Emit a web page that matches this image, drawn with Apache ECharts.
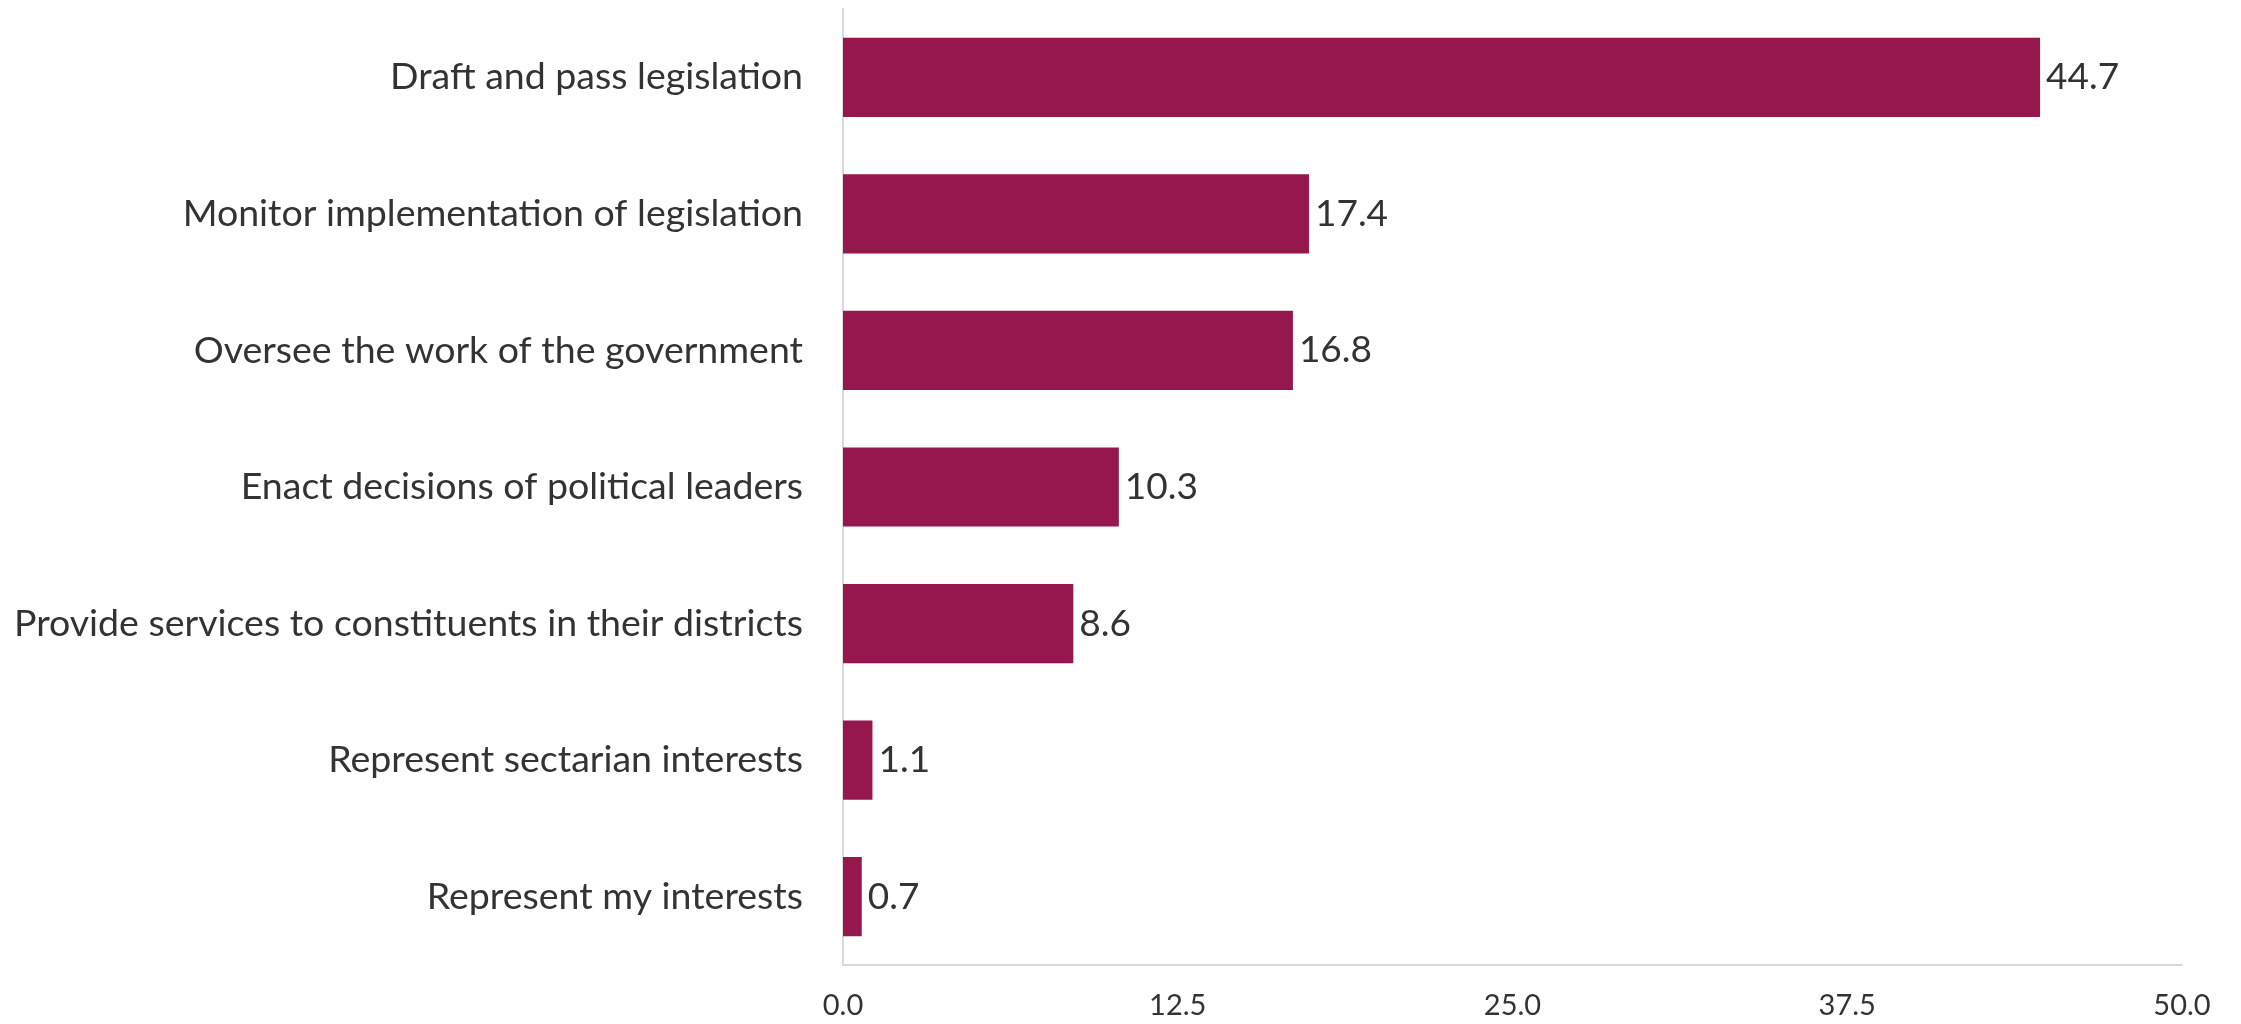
<!DOCTYPE html>
<html><head><meta charset="utf-8">
<script src="https://cdn.jsdelivr.net/npm/echarts@6/dist/echarts.min.js"></script>
<style>html,body{margin:0;padding:0;background:#fff}#c{width:2241px;height:1024px}</style>
</head><body><div id="c"></div>
<script>
const categories = [
  "Draft and pass legislation",
  "Monitor implementation of legislation",
  "Oversee the work of the government",
  "Enact decisions of political leaders",
  "Provide services to constituents in their districts",
  "Represent sectarian interests",
  "Represent my interests"
];
const values = [44.7, 17.4, 16.8, 10.3, 8.6, 1.1, 0.7];
const xTicks = [0, 12.5, 25, 37.5, 50];

const chart = echarts.init(document.getElementById('c'));
chart.setOption({
  animation: false,
  grid: {left: 843, right: 59, top: 9, bottom: 59, containLabel: false},
  xAxis: {
    type: 'value', min: xTicks[0], max: xTicks[xTicks.length - 1], interval: xTicks[1] - xTicks[0],
    axisLine: {show: true, lineStyle: {color: '#d9d9d9', width: 2}},
    axisTick: {show: false},
    splitLine: {show: false},
    axisLabel: {color: '#333', fontFamily: 'Lato', fontSize: 29, margin: 26,
      formatter: v => v.toFixed(1)}
  },
  yAxis: {
    type: 'category', data: categories, inverse: true,
    axisLine: {show: true, lineStyle: {color: '#d9d9d9', width: 2}},
    axisTick: {show: false},
    axisLabel: {color: '#333', fontFamily: 'Lato', fontSize: 37.5, margin: 40, padding: [4, 0, 0, 0]}
  },
  series: [{
    type: 'bar', data: values, barCategoryGap: '42%',
    itemStyle: {color: '#95174e'},
    label: {show: true, position: 'right', distance: 6, color: '#333',
      fontFamily: 'Lato', fontSize: 37, formatter: p => p.value.toFixed(1)}
  }]
});
</script></body></html>
